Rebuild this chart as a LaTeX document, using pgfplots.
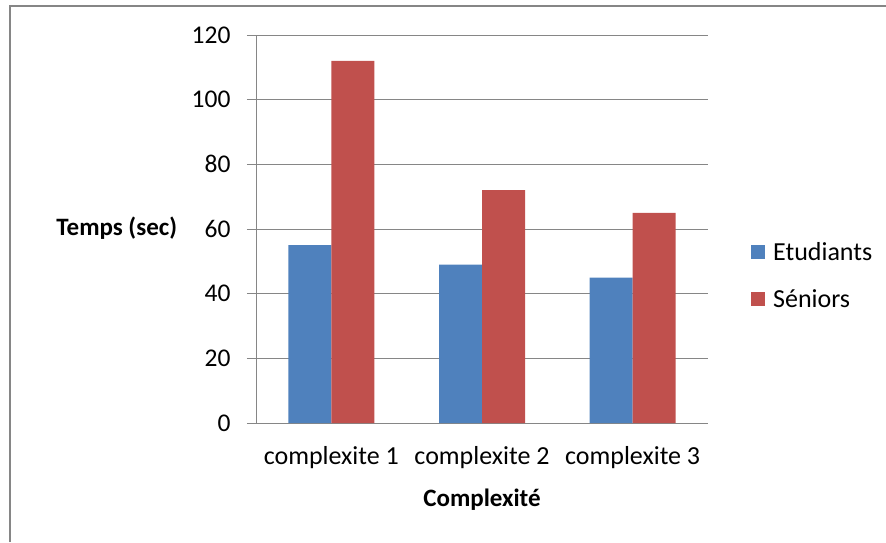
\documentclass[border=0pt]{standalone}
\usepackage{fontspec}
\setmainfont{Carlito}
\usepackage{pgfplots}
\pgfplotsset{compat=1.18}
\definecolor{cblue}{RGB}{79,129,189}
\definecolor{cred}{RGB}{192,80,77}
\definecolor{cgrid}{RGB}{134,134,134}
\begin{document}
\begin{tikzpicture}[x=1pt,y=1pt]
\useasboundingbox (0,0) rectangle (886,542);
\draw[cgrid,line width=1.5pt] (10,0) -- (10,536) -- (886,536);
\begin{axis}[
  at={(256pt,119pt)}, anchor=south west,
  scale only axis, width=452pt, height=388pt,
  /pgf/number format/assume math mode=true,
  font=\fontsize{26}{30}\selectfont,
  ybar=0pt, bar width=43pt,
  xmin=-0.5, xmax=2.5, ymin=0, ymax=120,
  ytick={0,20,...,120},
  xtick={0,1,2},
  xticklabels={complexite 1,complexite 2,complexite 3},
  major x tick style={draw=none},
  extra x ticks={-0.5,0.5,1.5,2.5},
  extra x tick labels={},
  extra x tick style={grid=none, major tick length=9pt, tick align=outside, tick style={cgrid, line width=1pt, draw=cgrid}},
  ytick style={cgrid, line width=1pt},
  major tick length=9pt, tick align=outside,
  ymajorgrids, grid style={cgrid, line width=1pt},
  axis lines*=left,
  axis line style={cgrid, line width=1pt},
  yticklabel style={font=\fontsize{25.5}{30}\selectfont, xshift=-13pt},
  xticklabel style={yshift=-11pt},
  xlabel={\fontsize{25}{30}\selectfont\bfseries Complexité},
  xlabel style={at={(axis description cs:0.5,-0.197)}, anchor=center},
  ylabel={\fontsize{25}{30}\selectfont\bfseries Temps (sec)},
  ylabel style={at={(axis description cs:-0.308,0.502)}, anchor=center, rotate=-90},
  legend style={at={(axis description cs:1.095,0.38)}, anchor=west, draw=none, fill=none, row sep=24pt, font=\fontsize{26}{30}\selectfont, inner sep=0pt},
  legend image code/.code={\fill[#1] (0pt,-7pt) rectangle (14pt,7pt);},
  legend cell align=left,
]
\addplot[fill=cblue, draw=none] coordinates {(0,55) (1,49) (2,45)};
\addplot[fill=cred, draw=none] coordinates {(0,112) (1,72) (2,65)};
\legend{\hspace{6pt}Etudiants,\hspace{6pt}Séniors}
\end{axis}
\end{tikzpicture}
\end{document}
